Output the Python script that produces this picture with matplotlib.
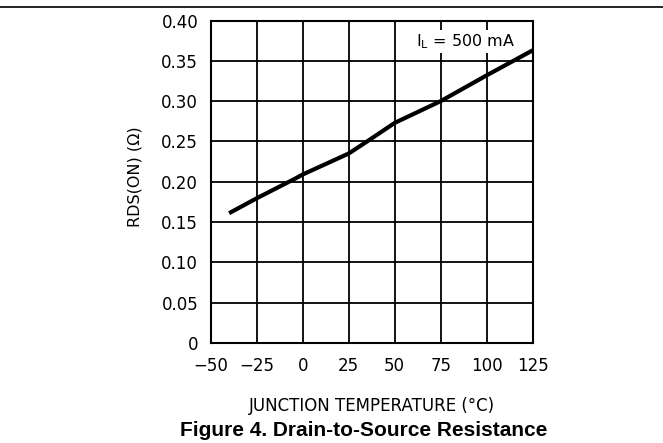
import matplotlib
matplotlib.use('Agg')
import matplotlib.pyplot as plt

# junction temperature (C) vs RDS(ON) (ohm)
temp = [-40, -25, -4, 0, 25, 35, 50, 75, 100, 125]
rds = [0.161, 0.1795, 0.204, 0.209, 0.235, 0.250, 0.273, 0.300, 0.332, 0.363]

xticks = [-50, -25, 0, 25, 50, 75, 100, 125]
yticks = [0, 0.05, 0.10, 0.15, 0.20, 0.25, 0.30, 0.35, 0.40]
ytick_labels = ['0', '0.05', '0.10', '0.15', '0.20', '0.25', '0.30', '0.35', '0.40']

plt.rcParams['font.family'] = 'DejaVu Sans'
fig = plt.figure(figsize=(6.63, 4.43), dpi=100)
ax = fig.add_axes([210.7 / 663, 1 - 343 / 443, 322 / 663, 322.5 / 443])

ax.plot(temp, rds, color='black', linewidth=3, solid_capstyle='butt')
ax.set_xlim(-50, 125)
ax.set_ylim(0, 0.40)
ax.set_xticks(xticks)
ax.set_yticks(yticks)
ax.set_yticklabels(ytick_labels)
ax.tick_params(length=0, labelsize=12, pad=9)
ax.tick_params(axis='x', pad=10)
ax.grid(True, color='black', linewidth=1.3)
ax.set_axisbelow(True)
for s in ax.spines.values():
    s.set_linewidth(1.5)

ax.set_ylabel('RDS(ON) (Ω)', fontsize=11.5, va='center')
ax.yaxis.set_label_coords(-0.235, 0.515)
ax.set_xlabel('JUNCTION TEMPERATURE (°C)', fontsize=12, va='center')
ax.xaxis.set_label_coords(0.5, -0.195)

ax.text(115.5, 0.374, r'I$_\mathregular{L}$ = 500 mA', fontsize=11.5, ha='right', va='center',
        bbox=dict(facecolor='white', edgecolor='none', pad=1.5))

fig.text(364 / 663, 1 - 430 / 443, 'Figure 4. Drain-to-Source Resistance', ha='center', va='center',
         fontsize=15, fontweight='bold', family='Liberation Sans')
fig.add_artist(plt.Line2D([0, 1], [1 - 7 / 443, 1 - 7 / 443], color='black', linewidth=1.2))

fig.savefig('out.png', dpi=100)
plt.close()
